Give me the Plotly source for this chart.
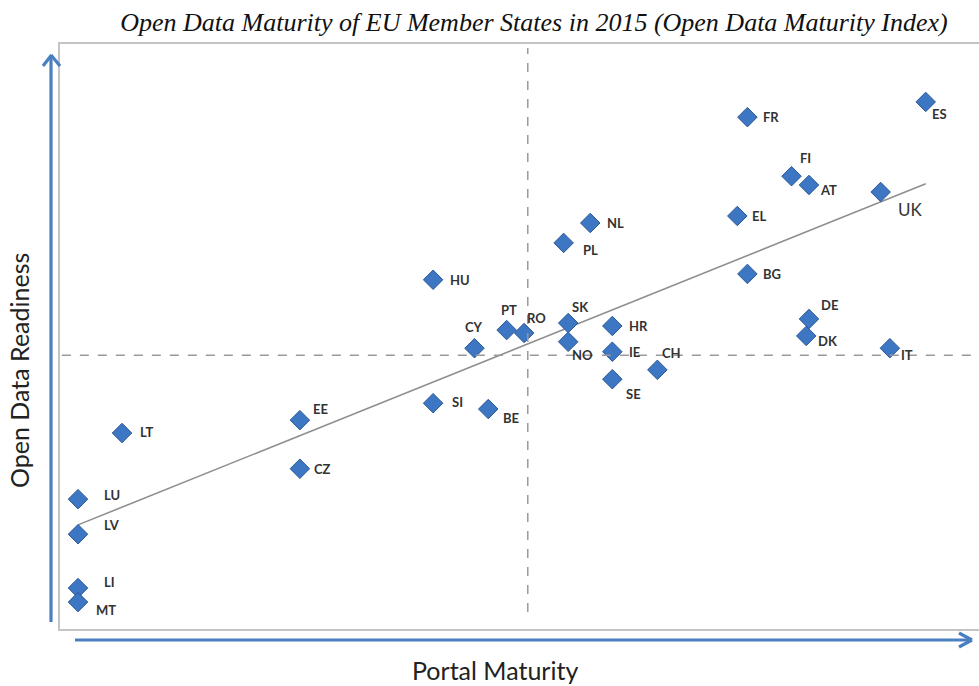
import plotly.graph_objects as go

# ---- data (index scale 0-100) ----
countries = ["LT", "LU", "LV", "LI", "MT", "EE", "CZ", "SI", "BE", "HU",
             "CY", "PT", "RO", "SK", "NO", "HR", "IE", "SE", "CH", "NL",
             "PL", "FR", "ES", "FI", "AT", "UK", "EL", "BG", "DE", "DK", "IT"]
portal_maturity = [6.75, 1.96, 1.96, 1.96, 1.96, 26.1, 26.1, 40.6, 46.6, 40.6,
                   45.1, 48.6, 50.5, 55.3, 55.3, 60.1, 60.1, 60.1, 65.0, 57.7,
                   54.8, 74.8, 94.2, 79.6, 81.5, 89.3, 73.7, 74.8, 81.5, 81.2, 90.3]
data_readiness = [33.5, 22.2, 16.2, 7.0, 4.6, 35.7, 27.4, 38.6, 37.6, 59.7,
                  48.0, 51.1, 50.6, 52.3, 49.1, 51.8, 47.4, 42.7, 44.3, 69.4,
                  66.0, 87.5, 90.1, 77.4, 75.9, 74.7, 70.6, 60.7, 53.0, 50.1, 48.0]
trend_x = [1.96, 94.2]
trend_y = [17.8, 76.1]
avg_portal = 50.9
avg_readiness = 46.8

# ---- label placement (pixel offsets from marker: dx right, dy down) ----
label_offset = {
    "FR": (16, 0), "ES": (6, 12), "FI": (8, -18), "AT": (11, 5), "UK": (17, 17),
    "EL": (15, 0), "NL": (17, 0), "PL": (19, 7), "HU": (17, 0), "BG": (16, 0),
    "DE": (12, -14), "DK": (12, 5), "IT": (11, 7), "PT": (-6, -20), "RO": (3, -15),
    "CY": (-9, -21), "SK": (4, -16), "NO": (4, 13), "HR": (17, 0), "IE": (17, 0),
    "CH": (5, -17), "SE": (14, 15), "SI": (19, -1), "BE": (15, 9), "EE": (13, -11),
    "CZ": (14, 0), "LT": (18, -1), "LU": (26, -4), "LV": (26, -9), "LI": (26, -6),
    "MT": (18, 8),
}

W, H = 979, 686
ML, MT_, MR, MB = 60, 44, 0, 57
PW, PH = W - ML - MR, H - MT_ - MB


def px(xp):
    return (xp - ML) / PW


def py(yp):
    return (H - MB - yp) / PH


fig = go.Figure()

fig.add_trace(go.Scatter(
    x=trend_x, y=trend_y, mode="lines",
    line=dict(color="#8f8f8f", width=1.6), hoverinfo="skip", showlegend=False))

fig.add_trace(go.Scatter(
    x=portal_maturity, y=data_readiness, mode="markers", text=countries,
    marker=dict(symbol="diamond", size=15, color="#3d76c3",
                line=dict(color="#2b5896", width=1)),
    showlegend=False))

annotations = []
for c, xv, yv in zip(countries, portal_maturity, data_readiness):
    dx, dy = label_offset[c]
    annotations.append(dict(
        x=xv, y=yv, xref="x", yref="y", text=c, showarrow=False,
        xanchor="left", yanchor="middle", xshift=dx - 2, yshift=-dy,
        font=dict(family="Lato", size=17 if c == "UK" else 13,
                  color="#333333", weight="bold" if c != "UK" else "normal")))

annotations.append(dict(
    x=px(495), y=py(670), xref="paper", yref="paper", text="Portal Maturity",
    showarrow=False, xanchor="center", yanchor="middle",
    font=dict(family="Lato", size=25, color="#222222")))
annotations.append(dict(
    x=px(19), y=py(371), xref="paper", yref="paper", text="Open Data Readiness",
    showarrow=False, xanchor="center", yanchor="middle", textangle=-90,
    font=dict(family="Lato", size=25, color="#222222")))

shapes = [
    dict(type="line", xref="x", yref="y", x0=avg_portal, x1=avg_portal,
         y0=2.9, y1=99.3, line=dict(color="#9a9a9a", width=1.5, dash="dash")),
    dict(type="line", xref="x", yref="y", x0=0.2, x1=99.3,
         y0=avg_readiness, y1=avg_readiness,
         line=dict(color="#9a9a9a", width=1.5, dash="dash")),
]
arrow_col = "#4a7fc1"
for (x0, y0, x1, y1) in [
    (51, 622, 51, 56), (43, 66, 51.5, 55), (60, 66, 51, 55),
    (75, 640, 970, 640), (959, 633, 972, 640), (959, 647, 972, 640),
]:
    shapes.append(dict(type="line", xref="paper", yref="paper",
                       x0=px(x0), y0=py(y0), x1=px(x1), y1=py(y1),
                       line=dict(color=arrow_col, width=3.2)))

fig.update_layout(
    width=W, height=H,
    margin=dict(l=ML, r=MR, t=MT_, b=MB),
    paper_bgcolor="white", plot_bgcolor="white",
    title=dict(text="Open Data Maturity of EU Member States in 2015 (Open Data Maturity Index)",
               xref="container", x=534 / W, xanchor="center",
               yref="container", y=1 - 22 / H, yanchor="middle",
               font=dict(family="Liberation Serif", size=26, color="#111111",
                         style="italic")),
    xaxis=dict(range=[0, 100], showgrid=False, zeroline=False, showticklabels=False,
               ticks="", showline=True, mirror=True, linecolor="#c4c4c4", linewidth=2),
    yaxis=dict(range=[0, 100], showgrid=False, zeroline=False, showticklabels=False,
               ticks="", showline=True, mirror=False, linecolor="#c4c4c4", linewidth=2),
    annotations=annotations,
    shapes=shapes,
)

fig.write_html("out.html", config={"displayModeBar": False},
               post_script="document.body.style.margin='0';document.body.style.overflow='hidden';")
